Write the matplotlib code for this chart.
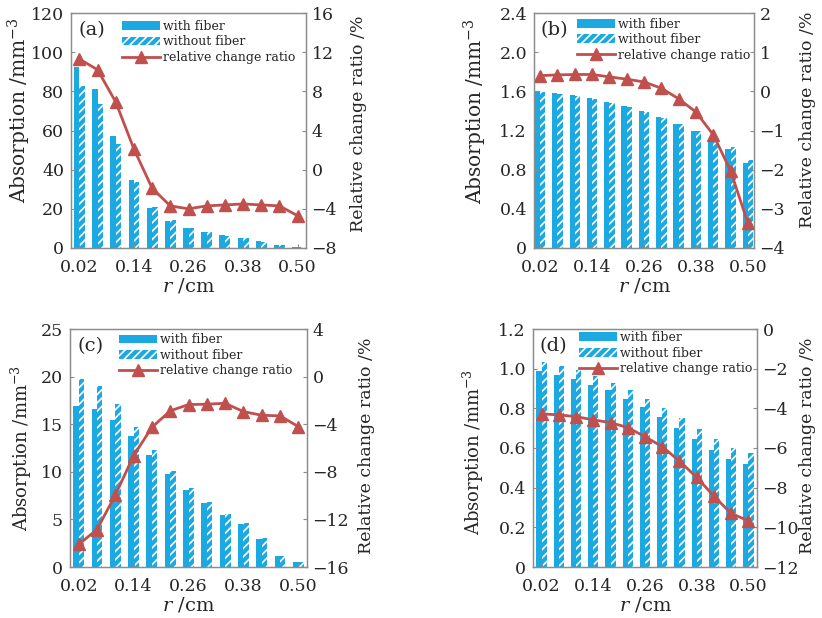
import numpy as np
import matplotlib.pyplot as plt

plt.rcParams['font.family'] = 'DejaVu Serif'
plt.rcParams['mathtext.fontset'] = 'dejavuserif'
plt.rcParams['hatch.linewidth'] = 1.2

# radial positions (cm)
r = np.round(np.arange(0.02, 0.5001, 0.04), 2)
tick_r = [0.02, 0.14, 0.26, 0.38, 0.50]

# (a)
a_with = [92.3, 81.2, 57.4, 34.6, 20.4, 13.6, 10.2, 8.0, 6.5, 5.1, 3.4, 1.5, 0.7]
a_without = [82.9, 73.5, 53.3, 33.9, 20.9, 14.1, 10.2, 8.0, 6.1, 5.1, 3.2, 1.4, 0.7]
a_ratio = [11.3, 10.2, 6.9, 2.1, -1.9, -3.7, -4.0, -3.7, -3.6, -3.5, -3.6, -3.7, -4.7]

# (b)
b_with = [1.60, 1.58, 1.56, 1.53, 1.49, 1.45, 1.40, 1.34, 1.27, 1.19, 1.10, 1.01, 0.87]
b_without = [1.59, 1.57, 1.55, 1.52, 1.48, 1.44, 1.39, 1.33, 1.27, 1.20, 1.11, 1.03, 0.90]
b_ratio = [0.40, 0.42, 0.43, 0.43, 0.37, 0.31, 0.24, 0.08, -0.19, -0.53, -1.11, -2.03, -3.37]

# (c)
c_with = [16.9, 16.6, 15.4, 13.8, 11.8, 9.8, 8.1, 6.7, 5.5, 4.5, 2.9, 1.2, 0.5]
c_without = [19.7, 19.0, 17.1, 14.7, 12.3, 10.1, 8.3, 6.8, 5.6, 4.6, 3.0, 1.2, 0.5]
c_ratio = [-14.1, -12.85, -9.96, -6.65, -4.26, -2.88, -2.35, -2.32, -2.24, -2.94, -3.25, -3.3, -4.2]

# (d)
d_with = [0.986, 0.969, 0.947, 0.919, 0.89, 0.848, 0.806, 0.755, 0.70, 0.644, 0.59, 0.543, 0.519]
d_without = [1.033, 1.011, 0.991, 0.962, 0.93, 0.893, 0.849, 0.804, 0.75, 0.698, 0.644, 0.598, 0.573]
d_ratio = [-4.28, -4.33, -4.42, -4.58, -4.72, -4.97, -5.43, -5.93, -6.66, -7.48, -8.43, -9.30, -9.67]

blue = '#1ca9e1'
red = '#c0504d'
gray = '#8c8c8c'
txt = '#262626'

# label, data, left/right ranges, axes box (px), x margin, tick fmt,
# left label (x, y, size), right label (x, y), legend anchor
panels = [
    ('(a)', a_with, a_without, a_ratio, (0, 120, 20), (-8, 16, 4), [71, 13, 306, 248], 0.0185, '{:.0f}',
     (-0.16, 0.585, 14.5), (1.187, 0.53), (0.983, 1.0)),
    ('(b)', b_with, b_without, b_ratio, (0, 2.4, 0.4), (-4, 2, 1), [534, 13, 754, 248], 0.0140, '{:.1f}',
     (-0.205, 0.58, 14.5), (1.205, 0.545), (1.014, 1.01)),
    ('(c)', c_with, c_without, c_ratio, (0, 25, 5), (-16, 4, 4), [70, 329, 307, 567], 0.0190, '{:.0f}',
     (-0.15, 0.5, 13), (1.215, 0.508), (0.966, 1.01)),
    ('(d)', d_with, d_without, d_ratio, (0, 1.2, 0.2), (-12, 0, 2), [533, 329, 757, 567], 0.0200, '{:.1f}',
     (-0.212, 0.483, 13), (1.1875, 0.508), (1.009, 1.02)),
]

W, H = 822, 618
fig = plt.figure(figsize=(W / 100, H / 100), dpi=100)

bw = 0.012
for lab, yw, ywo, ratio, lr, rr, box, marg, fmt, ll, rl, anc in panels:
    x0, y0, x1, y1 = box
    ax = fig.add_axes([x0 / W, 1 - y1 / H, (x1 - x0) / W, (y1 - y0) / H])
    ax2 = ax.twinx()

    b1 = ax.bar(r - bw / 2, yw, bw, color=blue, lw=0, label='with fiber')
    b2 = ax.bar(r + bw / 2, ywo, bw, color=blue, edgecolor='white', hatch='////', lw=0,
                label='without fiber')
    l1, = ax2.plot(r, ratio, color=red, lw=2, marker='^', ms=8, label='relative change ratio')

    ax.set_xlim(0.02 - marg, 0.50 + marg)
    ax.set_xticks(tick_r)
    ax.set_xticklabels(['{:.2f}'.format(t) for t in tick_r])
    lt = np.arange(lr[0], lr[1] + lr[2] / 2, lr[2])
    ax.set_ylim(lr[0], lr[1])
    ax.set_yticks(lt)
    ax.set_yticklabels(['0' if abs(v) < 1e-9 else fmt.format(v) for v in lt])
    rt = np.arange(rr[0], rr[1] + rr[2] / 2, rr[2])
    ax2.set_ylim(rr[0], rr[1])
    ax2.set_yticks(rt)
    ax2.set_yticklabels([('\u2212' if v < 0 else '') + '{:.0f}'.format(abs(v)) for v in rt])

    for a in (ax, ax2):
        a.tick_params(direction='in', length=3, color=gray, labelsize=12.5, labelcolor=txt, pad=4)
        for s in a.spines.values():
            s.set_color(gray)
            s.set_linewidth(0.9)
    ax.tick_params(axis='x', pad=8)
    ax.tick_params(axis='y', pad=5)

    ax.set_xlabel('$r$ /cm', fontsize=14, color=txt, labelpad=0)
    ax.set_ylabel('Absorption /mm$^{-3}$', fontsize=ll[2], color=txt)
    ax.yaxis.set_label_coords(ll[0], ll[1])
    ax2.set_ylabel('Relative change ratio /%', fontsize=12.5, color=txt)
    ax2.yaxis.set_label_coords(rl[0], rl[1])

    ax.text(0.03, 0.965, lab, transform=ax.transAxes, fontsize=14, color=txt, va='top')
    ax2.legend([b1, b2, l1], ['with fiber', 'without fiber', 'relative change ratio'],
               loc='upper right', bbox_to_anchor=anc, frameon=False, fontsize=9,
               handlelength=3.0, handletextpad=0.25, labelspacing=0.2, borderaxespad=0.15,
               labelcolor=txt)

fig.savefig('out.png', dpi=100)
